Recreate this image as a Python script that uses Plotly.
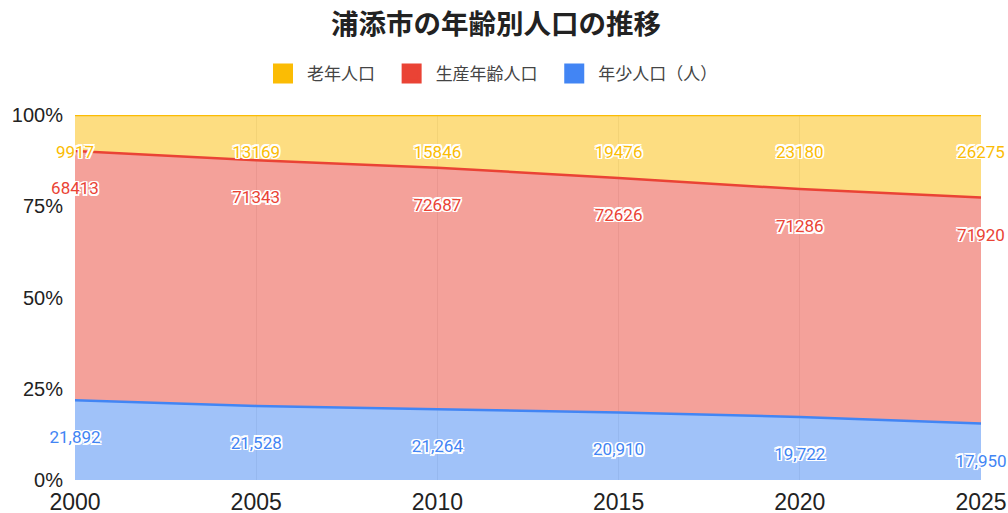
import plotly.graph_objects as go
import numpy as np

years = [2000, 2005, 2010, 2015, 2020, 2025]
young = [21892, 21528, 21264, 20910, 19722, 17950]
working = [68413, 71343, 72687, 72626, 71286, 71920]
elderly = [9917, 13169, 15846, 19476, 23180, 26275]

names = ["年少人口（人）", "生産年齢人口", "老年人口"]
colors = ["#4285f4", "#ea4335", "#fbbc04"]
fills = ["rgba(66,133,244,0.5)", "rgba(234,67,53,0.5)", "rgba(251,188,4,0.5)"]
series = [young, working, elderly]
ytick_vals = [0, 25, 50, 75, 100]
ytick_text = ["0%", "25%", "50%", "75%", "100%"]

arr = np.array(series, dtype=float)
total = arr.sum(axis=0)
cum_pct = np.cumsum(arr, axis=0) / total * 100.0
LABEL_OFFSET = 10.6  # percentage points below top of each band

fig = go.Figure()
for i, (nm, vals) in enumerate(zip(names, series)):
    fig.add_trace(go.Scatter(
        x=years, y=vals, name=nm, stackgroup="one", groupnorm="percent",
        mode="lines", line=dict(color=colors[i], width=2.5),
        fillcolor=fills[i], showlegend=False, hoverinfo="skip",
    ))

halo = ("-1.5px -1.5px 0 #fff, 1.5px -1.5px 0 #fff, -1.5px 1.5px 0 #fff, 1.5px 1.5px 0 #fff, "
        "0 -1.5px 0 #fff, 0 1.5px 0 #fff, -1.5px 0 0 #fff, 1.5px 0 0 #fff")
for i, vals in enumerate(series):
    if i == 0:
        txt = [f"{v:,}" for v in vals]
    else:
        txt = [str(v) for v in vals]
    fig.add_trace(go.Scatter(
        x=years, y=cum_pct[i] - LABEL_OFFSET, mode="text", text=txt,
        textposition="middle center", cliponaxis=False, showlegend=False,
        hoverinfo="skip",
        textfont=dict(family="Roboto", size=17, color=colors[i], shadow=halo),
    ))

# legend entries (solid squares)
for i, nm in enumerate(names):
    fig.add_trace(go.Scatter(
        x=[None], y=[None], mode="markers", name=nm + "\u00a0\u00a0",
        marker=dict(symbol="square", size=16, color=colors[i],
                    line=dict(color=colors[i], width=4)),
        showlegend=True,
    ))

fig.update_layout(
    width=1008, height=513,
    margin=dict(l=75, r=27, t=115, b=33, autoexpand=False),
    paper_bgcolor="white", plot_bgcolor="white",
    title=dict(text="浦添市の年齢別人口の推移", x=0.492, xanchor="center",
               y=0.953, yanchor="middle",
               font=dict(family="Noto Sans CJK JP", size=27.5, color="#222", weight="bold")),
    legend=dict(orientation="h", x=259 / 1008, xanchor="left", xref="container",
                y=1 - 74 / 513, yanchor="middle", yref="container",
                traceorder="reversed", itemwidth=38,
                font=dict(family="Noto Sans CJK JP", size=17, color="#444")),
    showlegend=True,
)
fig.update_xaxes(range=[2000, 2025], tickvals=years, showgrid=True, automargin=False,
                 gridcolor="rgba(0,0,0,0.08)", zeroline=False, showline=False,
                 ticks="outside", ticklen=1, tickcolor="rgba(0,0,0,0)",
                 tickfont=dict(family="Liberation Sans", size=23, color="#222"))
fig.update_yaxes(range=[0, 100], tickvals=ytick_vals, ticktext=ytick_text,
                 showgrid=False, zeroline=False, showline=False, automargin=False,
                 ticks="outside", ticklen=7, tickcolor="rgba(0,0,0,0)",
                 tickfont=dict(family="Liberation Sans", size=20, color="#222"))

fig.write_html("out.html", config={"displayModeBar": False},
               post_script="document.body.style.margin='0';")
